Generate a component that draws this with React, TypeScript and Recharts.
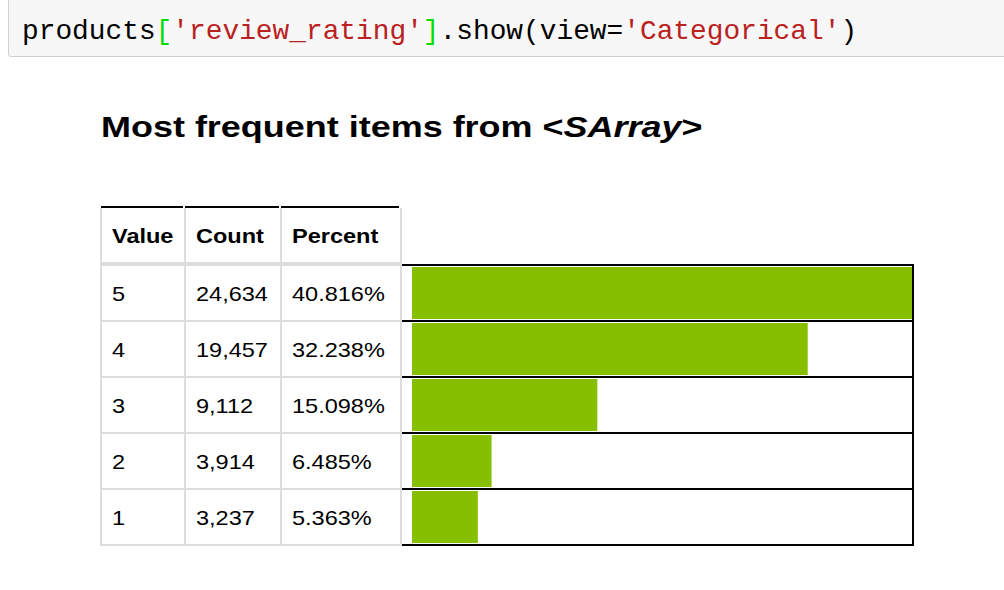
import React from "react";
import { BarChart, Bar, XAxis, YAxis, ReferenceLine } from "recharts";

// rating values, top row first
const values = [5, 4, 3, 2, 1];
const counts = [24634, 19457, 9112, 3914, 3237];
const countLabels = ["24,634", "19,457", "9,112", "3,914", "3,237"];
const percentLabels = ["40.816%", "32.238%", "15.098%", "6.485%", "5.363%"];
const headers = ["Value", "Count", "Percent"];

const data = values.map((v, i) => ({ value: v, count: counts[i] }));
const maxCount = Math.max(...counts);
// row boundaries sit half a step between the rating values
const rowEdges = [0.5, ...values.map((v) => v + 0.5)];

const sans = "'Liberation Sans', Arial, Helvetica, sans-serif";
const mono = "'Liberation Mono', 'Courier New', monospace";

const colX = [101, 185, 281];
const colW = [84, 96, 120];
const headTop = 207;
const rowTop = 264;
const rowH = 56;
const gray = "#dddddd";

const CodeCell = () => (
    <div
        style={{
            position: "absolute",
            left: 8,
            top: -10,
            width: 1010,
            height: 65,
            background: "#f7f7f7",
            border: "1px solid #cfcfcf",
            borderRadius: 3,
        }}
    >
        <div
            style={{
                position: "absolute",
                left: 13,
                top: 26.5,
                fontFamily: mono,
                fontSize: 27.5,
                lineHeight: "27.5px",
                whiteSpace: "pre",
                color: "#000",
                transform: "scaleX(1.012)",
                transformOrigin: "left",
            }}
        >
            products<span style={{ color: "#00dd00" }}>[</span>
            <span style={{ color: "#ba2121" }}>'review_rating'</span>
            <span style={{ color: "#00dd00" }}>]</span>.show(view=
            <span style={{ color: "#ba2121" }}>'Categorical'</span>)
        </div>
    </div>
);

const Table = () => {
    const lines: React.ReactNode[] = [];
    // black header top borders
    colX.forEach((x, i) =>
        lines.push(
            <div key={"ht" + i} style={{ position: "absolute", left: x, top: headTop - 1, width: colW[i] - 2, height: 2, background: "#000" }} />
        )
    );
    lines.push(<div key="hb" style={{ position: "absolute", left: 100, top: rowTop - 2, width: 302, height: 2, background: gray }} />);
    for (let i = 0; i <= values.length; i++) {
        lines.push(
            <div key={"h" + i} style={{ position: "absolute", left: 100, top: rowTop + rowH * i, width: 302, height: 2, background: gray }} />
        );
    }
    [100, 184, 280, 400].forEach((x, i) =>
        lines.push(
            <div key={"v" + i} style={{ position: "absolute", left: x, top: headTop + 1, width: 2, height: rowTop + rowH * values.length - headTop + 1, background: gray }} />
        )
    );

    const cell = (key: string, x: number, y: number, h: number, text: string, bold: boolean) => (
        <div
            key={key}
            style={{
                position: "absolute",
                left: x + 11,
                top: y,
                height: h,
                display: "flex",
                alignItems: "center",
                fontFamily: sans,
                fontSize: 21,
                lineHeight: "21px",
                fontWeight: bold ? 700 : 400,
                color: "#000",
                whiteSpace: "nowrap",
                transform: "scaleX(1.12)",
                transformOrigin: "left",
            }}
        >
            {text}
        </div>
    );

    const cells: React.ReactNode[] = [];
    headers.forEach((h, i) => cells.push(cell("th" + i, colX[i], headTop, rowTop - headTop, h, true)));
    values.forEach((v, r) => {
        const y = rowTop + rowH * r + 2;
        cells.push(cell("v" + r, colX[0], y, rowH - 2, String(v), false));
        cells.push(cell("c" + r, colX[1], y, rowH - 2, countLabels[r], false));
        cells.push(cell("p" + r, colX[2], y, rowH - 2, percentLabels[r], false));
    });

    return (
        <>
            {lines}
            {cells}
        </>
    );
};

export default function App() {
    return (
        <div style={{ position: "absolute", left: 0, top: 0, width: 1004, height: 590, background: "#fff", overflow: "hidden" }}>
            <CodeCell />
            <div
                style={{
                    position: "absolute",
                    left: 101,
                    top: 112.5,
                    fontFamily: sans,
                    fontSize: 29,
                    lineHeight: "29px",
                    fontWeight: 700,
                    whiteSpace: "nowrap",
                    color: "#000",
                    transform: "scaleX(1.24)",
                    transformOrigin: "left",
                }}
            >
                Most frequent items from &lt;<i>SArray</i>&gt;
            </div>
            <Table />
            <div style={{ position: "absolute", left: 392, top: 255 }}>
                <BarChart
                    width={540}
                    height={300}
                    data={data}
                    layout="vertical"
                    margin={{ top: 10, right: 18, bottom: 10, left: 10 }}
                >
                    <XAxis type="number" domain={[0, maxCount]} hide padding={{ left: 10, right: 1 }} />
                    <YAxis
                        type="number"
                        dataKey="value"
                        domain={[0.5, 5.5]}
                        reversed
                        width={0}
                        tick={false}
                        axisLine={false}
                        tickLine={false}
                    />
                    <Bar dataKey="count" fill="#86bf00" barSize={52} isAnimationActive={false} />
                    {rowEdges.map((e) => (
                        <ReferenceLine key={e} y={e} stroke="#000" strokeWidth={2} />
                    ))}
                    <ReferenceLine x={maxCount} stroke="#000" strokeWidth={2} />
                </BarChart>
            </div>
        </div>
    );
}
